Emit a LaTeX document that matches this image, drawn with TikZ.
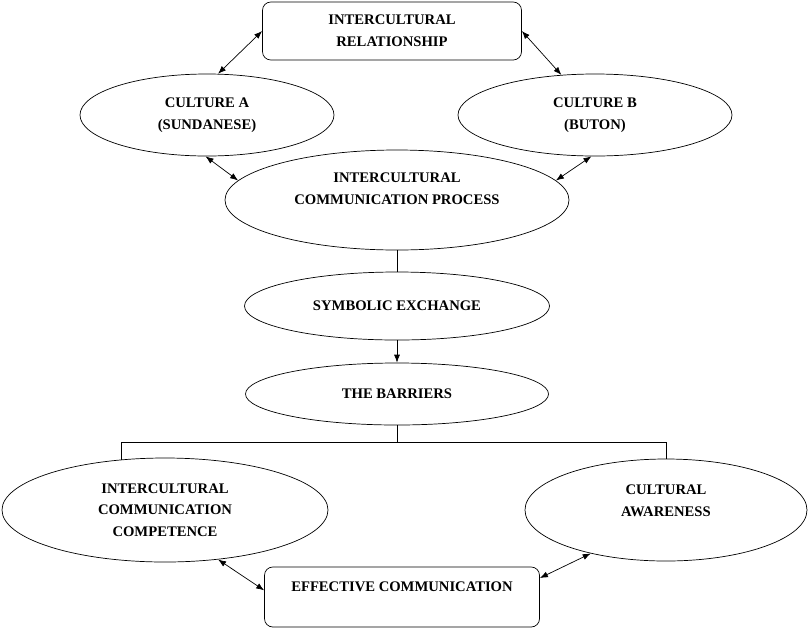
\documentclass[tikz,border=0pt]{standalone}
\usepackage{fontspec}
\setmainfont{Liberation Serif}
\usetikzlibrary{shapes.geometric, arrows.meta}

\begin{document}
\begin{tikzpicture}[x=0.03cm, y=-0.03cm, line width=0.6pt,
    oval/.style={draw, ellipse, inner sep=0pt, align=center},
    box/.style={draw, rounded corners=0.25cm, inner sep=0pt, align=center},
    txt/.style={align=center},
    link/.style={{Latex[length=2.4mm,width=1.8mm]}-{Latex[length=2.4mm,width=1.8mm]}},
    every node/.style={font=\bfseries\fontsize{12.5}{18.5}\selectfont}]

        \useasboundingbox (0,0) rectangle (810,630);

        \coordinate (fork) at (397,442);

        \node[box, minimum width=7.77cm, minimum height=1.74cm] (rel) at (392,31) {INTERCULTURAL\\RELATIONSHIP};
        \node[oval, minimum width=7.62cm, minimum height=2.46cm] (cultA) at (207,115) {CULTURE A\\(SUNDANESE)};
        \node[oval, minimum width=8.22cm, minimum height=2.46cm] (cultB) at (595,115) {CULTURE B\\(BUTON)};
        \node[oval, minimum width=10.32cm, minimum height=3cm] (proc) at (397,200) {};
        \node[txt] (proct) at (397,189) {INTERCULTURAL\\COMMUNICATION PROCESS};
        \node[oval, minimum width=9.15cm, minimum height=2.04cm] (sym) at (397,306) {SYMBOLIC EXCHANGE};
        \node[oval, minimum width=9.09cm, minimum height=1.86cm] (bar) at (397,394) {THE BARRIERS};
        \node[oval, minimum width=9.78cm, minimum height=3.12cm] (icc) at (165,510) {INTERCULTURAL\\COMMUNICATION\\COMPETENCE};
        \node[oval, minimum width=8.46cm, minimum height=3.06cm] (ca) at (666,510) {};
        \node[txt] (cat) at (666,501) {CULTURAL\\AWARENESS};
        \node[box, minimum width=8.25cm, minimum height=1.8cm] (eff) at (402,597) {};
        \node[txt] (efft) at (402,587) {EFFECTIVE COMMUNICATION};

        \draw[link] (cultA.75) -- (rel.west);
        \draw[link] (rel.east) -- (cultB.130);
        \draw[link] (cultA.-92) -- (proc.173);
        \draw[link] (cultB.-95) -- (proc.7);
        \draw (proc.south) -- (sym.north);
        \draw[-{Latex[length=2.4mm,width=1.8mm]}] (sym.south) -- (bar.north);
        \draw (bar.south) -- (fork);
        \draw (icc.131) |- (fork) -| (ca.north);
        \draw[link] (icc.-43) -- ([yshift=0.2cm]eff.west);
        \draw[link] (ca.-150) -- ([yshift=0.57cm]eff.east);
    \end{tikzpicture}
\end{document}
